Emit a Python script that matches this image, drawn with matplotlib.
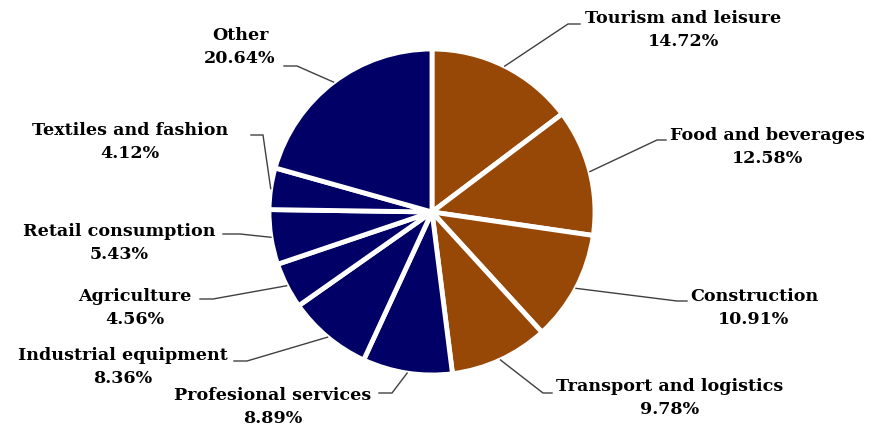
import numpy as np
import matplotlib
matplotlib.use("Agg")
import matplotlib.pyplot as plt

categories = ["Tourism and leisure", "Food and beverages", "Construction",
              "Transport and logistics", "Profesional services", "Industrial equipment",
              "Agriculture", "Retail consumption", "Textiles and fashion", "Other"]
values = [14.72, 12.58, 10.91, 9.78, 8.89, 8.36, 4.56, 5.43, 4.12, 20.64]
brown = "#974706"
navy = "#000066"
colors = [brown] * 4 + [navy] * 6

# layout (pixel coords, y downward): text block centre, elbow point, line end near text
text_pos = [(683, 30), (767, 147), (754, 308), (670, 398), (273, 407),
            (123, 367), (135, 308), (119, 243), (130, 142), (240, 47)]
elbows = [(568, 24), (657, 140), (677, 301), (543, 393), (392, 393),
          (247, 361), (213, 299), (240, 234), (263, 135), (297, 66)]
ends = [(580, 24), (666, 140), (687, 301), (552, 393), (379, 393),
        (234, 361), (200, 299), (223, 234), (251, 135), (284, 66)]

W, H = 880, 430
fig = plt.figure(figsize=(8.8, 4.3), dpi=100)
ax = fig.add_axes([0, 0, 1, 1])

def py(y):
    return H - y

wedges, _ = ax.pie(values, colors=colors, startangle=90, counterclock=False,
                   center=(432, py(212)), radius=163,
                   wedgeprops=dict(edgecolor="white", linewidth=3.5))
ax.set_xlim(0, W)
ax.set_ylim(0, H)
ax.set_aspect("equal")
ax.axis("off")

for w, cat, v, tp, el, en in zip(wedges, categories, values, text_pos, elbows, ends):
    ang = np.deg2rad((w.theta1 + w.theta2) / 2)
    cx, cy = w.center
    sx = cx + w.r * np.cos(ang)
    sy = cy + w.r * np.sin(ang)
    ax.plot([sx, el[0], en[0]], [sy, py(el[1]), py(en[1])], color="#404040", lw=1.0,
            solid_joinstyle="miter")
    ax.text(tp[0], py(tp[1]), f"{cat}\n{v:.2f}%", ha="center", va="center",
            multialignment="center", fontsize=12.6, family="DejaVu Serif",
            fontweight="bold", color="black", linespacing=1.42)

fig.savefig("out.png", dpi=100)
